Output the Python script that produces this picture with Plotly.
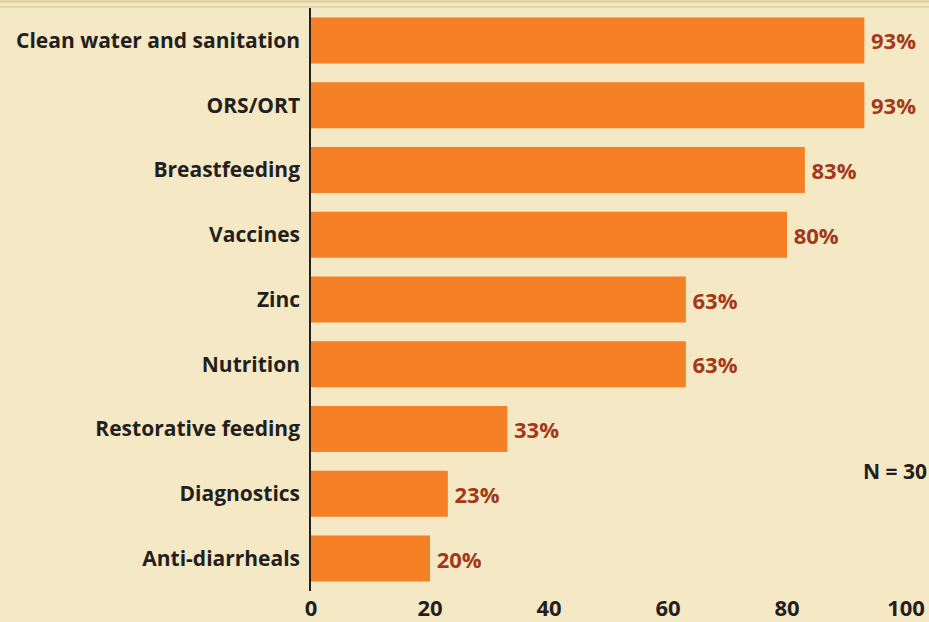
import plotly.graph_objects as go

categories = ["Clean water and sanitation", "ORS/ORT", "Breastfeeding", "Vaccines",
              "Zinc", "Nutrition", "Restorative feeding", "Diagnostics", "Anti-diarrheals"]
values = [93, 93, 83, 80, 63, 63, 33, 23, 20]
value_labels = ["93%", "93%", "83%", "80%", "63%", "63%", "33%", "23%", "20%"]
x_ticks = [0, 20, 40, 60, 80, 100]

BG = "#f5e8c5"
BAR = "#f58025"
LAB = "#a3381b"
DARK = "#231f20"
FONT = "Open Sans"

fig = go.Figure(go.Bar(
    y=categories, x=values, orientation="h",
    marker=dict(color=BAR, line=dict(width=0)),
    width=0.71,
    text=value_labels, texttemplate="\u2009%{text}", textposition="outside",
    textfont=dict(family=FONT, size=22, color=LAB, weight="bold"),
    cliponaxis=False,
))

fig.update_layout(
    width=929, height=622,
    paper_bgcolor=BG, plot_bgcolor=BG,
    margin=dict(l=311, r=23, t=8, b=31, autoexpand=False),
    showlegend=False,
    font=dict(family=FONT, color=DARK),
    xaxis=dict(range=[0, 100], tickvals=x_ticks, showgrid=False, zeroline=False,
               showline=False, ticks="", ticklabelstandoff=2, automargin=False,
               tickfont=dict(family=FONT, size=22, color=DARK, weight="bold")),
    yaxis=dict(autorange="reversed", showgrid=False, zeroline=False,
               showline=True, linecolor=DARK, linewidth=1.5, ticks="",
               ticklabelstandoff=5, automargin=False,
               tickfont=dict(family=FONT, size=21, color=DARK, weight="bold")),
    annotations=[dict(text="<b>N = 30</b>", xref="paper", yref="paper",
                      x=1.038, y=(591 - 471) / 583, xanchor="right", yanchor="middle",
                      showarrow=False, font=dict(family=FONT, size=21, color=DARK))],
    shapes=[
        dict(type="line", xref="paper", yref="paper", x0=-0.6, x1=1.1,
             y0=1 + 6.5 / 583, y1=1 + 6.5 / 583, line=dict(color="#dbc99a", width=2)),
        dict(type="line", xref="paper", yref="paper", x0=-0.6, x1=1.1,
             y0=1 + 1 / 583, y1=1 + 1 / 583, line=dict(color="#e3d4a8", width=2)),
    ],
)

fig.write_html("out.html", config={"displayModeBar": False},
               post_script="document.body.style.margin='0';document.body.style.overflow='hidden';")
